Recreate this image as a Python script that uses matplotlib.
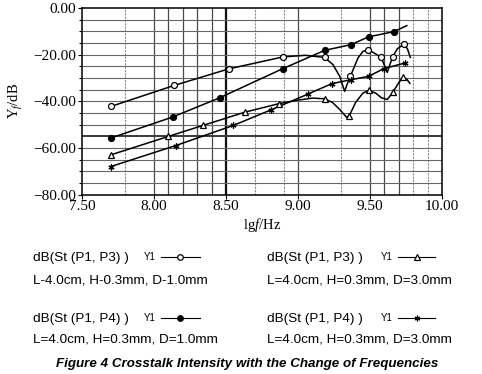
import matplotlib
matplotlib.use('Agg')
import matplotlib.pyplot as plt
from matplotlib.lines import Line2D

plt.rcParams['font.family'] = ['Liberation Serif', 'DejaVu Serif']
plt.rcParams['mathtext.fontset'] = 'custom'
plt.rcParams['mathtext.rm'] = 'Liberation Serif'
plt.rcParams['mathtext.it'] = 'Liberation Serif:italic'

# open circle: P1,P3  D=1.0mm
c1_x = [7.70, 8.14, 8.52, 8.895, 9.05, 9.185, 9.243, 9.29, 9.324, 9.34, 9.364,
        9.417, 9.452, 9.487, 9.52, 9.575, 9.60, 9.62, 9.64, 9.657, 9.69, 9.735, 9.76, 9.78]
c1_y = [-42.2, -33.2, -26.1, -21.0, -20.3, -21.2, -24.3, -29.3, -35.7, -32.9, -29.3,
        -21.4, -18.6, -17.9, -19.0, -21.0, -24.5, -27.6, -24.0, -21.0, -17.5, -15.6, -17.5, -21.2]
c1_mk = [0, 1, 2, 3, 5, 10, 13, 15, 19, 21]

# filled circle: P1,P4  D=1.0mm
c2_x = [7.70, 8.13, 8.459, 8.895, 9.185, 9.37, 9.49, 9.665, 9.756]
c2_y = [-55.7, -46.7, -38.4, -26.0, -18.2, -15.7, -12.4, -10.2, -7.6]
c2_mk = [0, 1, 2, 3, 4, 5, 6, 7]

# open triangle: P1,P3  D=3.0mm
c3_x = [7.70, 8.10, 8.34, 8.633, 8.867, 9.00, 9.10, 9.185, 9.24, 9.29, 9.336, 9.355,
        9.40, 9.45, 9.494, 9.54, 9.58, 9.62, 9.66, 9.70, 9.73, 9.755, 9.777]
c3_y = [-62.9, -55.0, -50.3, -44.6, -41.0, -39.5, -38.6, -38.9, -40.5, -43.5, -46.7, -46.3,
        -40.5, -36.5, -35.3, -36.5, -38.5, -39.2, -36.0, -32.0, -29.7, -30.5, -32.3]
c3_mk = [0, 1, 2, 3, 4, 7, 11, 14, 18, 20]

# asterisk: P1,P4  D=3.0mm
c4_x = [7.70, 8.152, 8.551, 8.814, 9.069, 9.236, 9.371, 9.49, 9.596, 9.742]
c4_y = [-67.9, -58.9, -50.3, -43.6, -36.9, -32.4, -30.7, -29.3, -26.0, -23.6]
c4_mk = [0, 1, 2, 3, 4, 5, 6, 7, 8, 9]

xticks = [7.5, 8.0, 8.5, 9.0, 9.5, 10.0]
yticks = [0, -20, -40, -60, -80]
vgrid = [7.8, 8.0, 8.1, 8.2, 8.3, 8.4, 8.7, 8.9, 9.0, 9.3, 9.5, 9.6, 9.7, 9.8, 9.9]
vgrid_light = [7.8, 8.7, 8.9, 9.3, 9.8, 9.9]
hgrid = [-5, -10, -15, -20, -25, -30, -35, -40, -45, -50, -60, -65, -70, -75]

fig = plt.figure(figsize=(4.82, 3.74), dpi=100)
ax = fig.add_axes([0.170, 0.479, 0.747, 0.500])
ax.set_xlim(7.5, 10.0)
ax.set_ylim(-80, 0)

for g in vgrid:
    if g in vgrid_light:
        ax.axvline(g, color='#8a8a8a', lw=0.8, ls=(0, (2, 1)), zorder=1)
    else:
        ax.axvline(g, color='#4a4a4a', lw=0.9, zorder=1)
ax.axvline(8.5, color='#111111', lw=1.6, zorder=1)
for g in hgrid:
    ax.axhline(g, color='#666666', lw=0.8, zorder=1)
ax.axhline(-55, color='#3a3a3a', lw=1.4, zorder=1)

mk = dict(color='black', mec='black', ms=4.3, mew=0.9, ls='none', zorder=4)

ax.plot(c1_x, c1_y, color='black', lw=1.1, zorder=3)
ax.plot([c1_x[i] for i in c1_mk], [c1_y[i] for i in c1_mk], marker='o', mfc='white', **mk)

ax.plot(c2_x, c2_y, color='black', lw=1.1, zorder=3)
ax.plot([c2_x[i] for i in c2_mk], [c2_y[i] for i in c2_mk], marker='o', mfc='black', **mk)

ax.plot(c3_x, c3_y, color='black', lw=1.1, zorder=3)
ax.plot([c3_x[i] for i in c3_mk], [c3_y[i] for i in c3_mk], marker='^', mfc='white', **mk)

ax.plot(c4_x, c4_y, color='black', lw=1.1, zorder=3)
ax.plot([c4_x[i] for i in c4_mk], [c4_y[i] for i in c4_mk], marker=(6, 2, 0), mfc='black', **mk)

ax.set_xticks(xticks)
ax.set_xticklabels(['%.2f' % v for v in xticks])
ax.set_yticks(yticks)
ax.set_yticklabels(['%.2f' % v if v == 0 else '\u2212%.2f' % abs(v) for v in yticks])
ax.set_yticks(hgrid, minor=True)
ax.tick_params(axis='both', which='major', labelsize=11, length=3, width=0.8, pad=1)
ax.tick_params(axis='y', which='minor', length=2, width=0.8)
for s in ax.spines.values():
    s.set_linewidth(1.1)
    s.set_color('black')

ax.set_xlabel(r'lg$\it{f}$/Hz', fontsize=10.5, labelpad=2)
ax.set_ylabel(r'Y$_f$/dB', fontsize=10.5, labelpad=6)

# legend block below the chart
sans = ['Liberation Sans', 'DejaVu Sans']
rows = [
    (0.068, 0.310, 0.251, 'dB(St (P1, P3) )', 'L-4.0cm, H-0.3mm, D-1.0mm', 0.299, 0.333, 0.415, 'o', 'white'),
    (0.554, 0.310, 0.251, 'dB(St (P1, P3) )', 'L=4.0cm, H=0.3mm, D=3.0mm', 0.790, 0.826, 0.903, '^', 'white'),
    (0.068, 0.146, 0.092, 'dB(St (P1, P4) )', 'L=4.0cm, H=0.3mm, D=1.0mm', 0.299, 0.333, 0.415, 'o', 'black'),
    (0.554, 0.146, 0.092, 'dB(St (P1, P4) )', 'L=4.0cm, H=0.3mm, D=3.0mm', 0.790, 0.826, 0.903, (6, 2, 0), 'black'),
]
for tx, ty1, ty2, t1, t2, yx, lx0, lx1, m, fc in rows:
    fig.text(tx, ty1, t1, family=sans, fontsize=9.7, va='center', ha='left')
    fig.text(tx, ty2, t2, family=sans, fontsize=9.7, va='center', ha='left')
    fig.text(yx, ty1 + 0.003, 'Y1', family=sans, fontsize=7, va='center', ha='left')
    fig.add_artist(Line2D([lx0, lx1], [ty1 + 0.003, ty1 + 0.003], transform=fig.transFigure,
                          color='black', lw=0.8))
    fig.add_artist(Line2D([(lx0 + lx1) / 2], [ty1 + 0.003], transform=fig.transFigure,
                          marker=m, ms=4, mfc=fc, mec='black', mew=0.9, color='black'))

fig.text(0.513, 0.028, 'Figure 4 Crosstalk Intensity with the Change of Frequencies',
         family=sans, fontsize=9.6, weight='bold', style='italic', ha='center', va='center')

fig.savefig('out.png', dpi=100)
